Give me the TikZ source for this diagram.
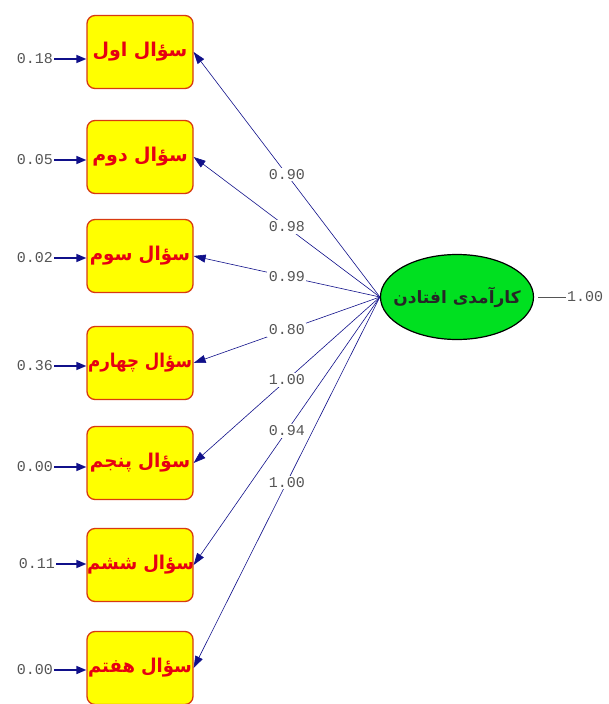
\documentclass[tikz,border=0pt]{standalone}
\usepackage{fontspec}
\usetikzlibrary{shapes.geometric,arrows.meta}
\TeXXeTstate=1
\newfontfamily\arabicfont[Script=Arabic]{DejaVu Sans}
\setmonofont{Liberation Mono}
\definecolor{boxfill}{HTML}{FFFF00}
\definecolor{boxline}{HTML}{D83A10}
\definecolor{boxtext}{HTML}{E60012}
\definecolor{ellfill}{HTML}{00E020}
\definecolor{navy}{HTML}{10108A}
\definecolor{numgray}{HTML}{555555}
\tikzset{
  qbox/.style={draw=boxline, fill=boxfill, line width=1.3pt, rounded corners=8pt,
    minimum width=106pt, minimum height=73pt, text width=106pt, align=center,
    inner sep=0pt, text=boxtext,
    font=\arabicfont\bfseries\fontsize{19}{19}\selectfont},
  factor/.style={ellipse, draw=black, fill=ellfill, line width=1.2pt,
    minimum width=153pt, minimum height=85pt, inner sep=0pt},
  factortext/.style={text=black!85, inner sep=0pt,
    font=\arabicfont\bfseries\fontsize{17}{17}\selectfont},
  num/.style={text=numgray, font=\ttfamily\fontsize{15}{15}\selectfont, inner sep=1pt},
  errarrow/.style={navy, line width=1.6pt, -{Triangle[length=10pt,width=8pt]}},
  loadarrow/.style={navy, line width=0.6pt, -{Triangle[length=12pt,width=8pt]}},
  lbl/.style={num, fill=white, inner sep=1.5pt}
}
\begin{document}
\begin{tikzpicture}[x=1pt,y=-1pt]
\useasboundingbox (0,0) rectangle (609,704);
\node[qbox] (q1) at (140,52) {\beginR سؤال اول\endR};
\node[qbox] (q2) at (140,157) {\beginR سؤال دوم\endR};
\node[qbox] (q3) at (140,256) {\scalebox{0.96}[1]{\beginR سؤال سوم\endR}};
\node[qbox] (q4) at (140,363) {\scalebox{0.88}[1]{\beginR سؤال چهارم\endR}};
\node[qbox] (q5) at (140,463) {\scalebox{0.97}[1]{\beginR سؤال پنجم\endR}};
\node[qbox] (q6) at (140,565) {\scalebox{0.95}[1]{\beginR سؤال ششم\endR}};
\node[qbox] (q7) at (140,668) {\scalebox{0.95}[1]{\beginR سؤال هفتم\endR}};
\node[factor, label={[factortext]center:{\beginR کارآمدی افتادن\endR}}] (F) at (457,297) {};
\node[num] (e1) at (35,59) {0.18};
\node[num] (e2) at (35,160) {0.05};
\node[num] (e3) at (35,258) {0.02};
\node[num] (e4) at (35,366) {0.36};
\node[num] (e5) at (35,467) {0.00};
\node[num] (e6) at (37,564) {0.11};
\node[num] (e7) at (35,670) {0.00};
\foreach \i in {1,...,7}{\draw[errarrow] (e\i.east) -- (q\i.west |- e\i.east);}
\draw[loadarrow] (F.west) -- node[lbl]{0.90} (q1.east);
\draw[loadarrow] (F.west) -- node[lbl]{0.98} (q2.east);
\draw[loadarrow] (F.west) -- node[lbl]{0.99} (q3.east);
\draw[loadarrow] (F.west) -- node[lbl]{0.80} (q4.east);
\draw[loadarrow] (F.west) -- node[lbl]{1.00} (q5.east);
\draw[loadarrow] (F.west) -- node[lbl]{0.94} (q6.east);
\draw[loadarrow] (F.west) -- node[lbl]{1.00} (q7.east);
\node[num] (r) at (585,297) {1.00};
\draw[numgray, line width=0.5pt, shorten <=4pt] (F.east) -- (r.west);
\end{tikzpicture}
\end{document}
